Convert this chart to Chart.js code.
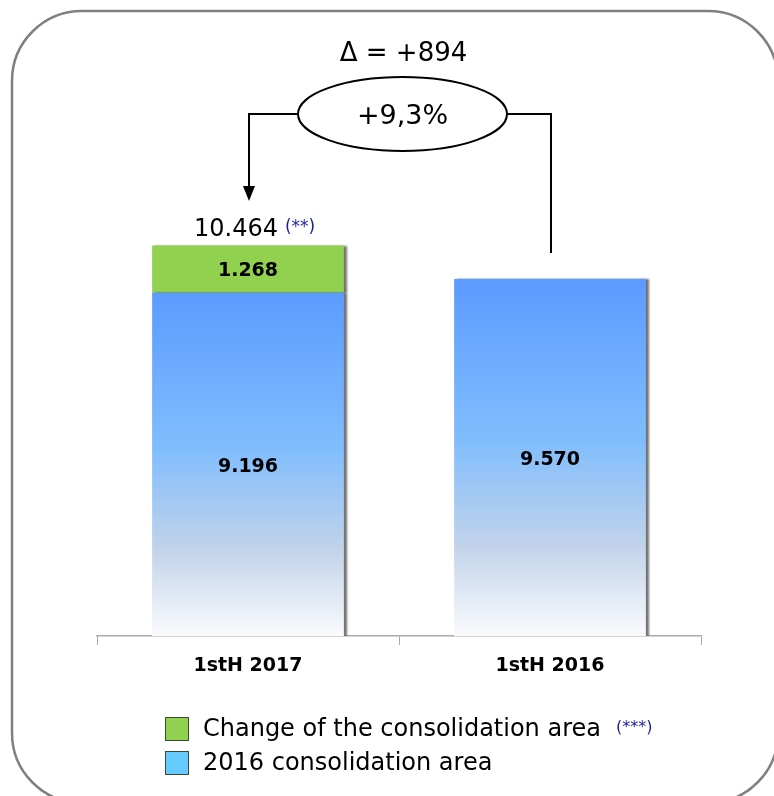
<!DOCTYPE html>
<html>
<head>
<meta charset="utf-8">
<script src="https://cdn.jsdelivr.net/npm/chart.js@4.4.0/dist/chart.umd.min.js"></script>
<style>
  html, body { margin: 0; padding: 0; background: #ffffff; }
  #wrap { position: relative; width: 774px; height: 796px; overflow: hidden; }
</style>
</head>
<body>
<div id="wrap"><canvas id="chart" width="774" height="796"></canvas></div>
<script>
var categories = ["1stH 2017", "1stH 2016"];
var base_2016_area = [9196, 9570];
var area_change = [1268, null];
var legend_labels = ["Change of the consolidation area", "2016 consolidation area"];
var legend_notes = ["(***)", ""];
var total_note = "(**)";

var font_family = "'DejaVu Sans', Verdana, sans-serif";
var green = "#92d050";
var legend_blue = "#66ccff";
var note_blue = "#1f1fa0";

// dots as thousand separators: 10464 -> 10.464
function fmt(v) {
  return String(Math.round(v)).replace(/\B(?=(\d{3})+(?!\d))/g, ".");
}

function totalOf(i) {
  return base_2016_area[i] + (area_change[i] || 0);
}

function barGradient(context) {
  var chart = context.chart;
  if (!chart.chartArea) return "#6fa8ff";
  var y = chart.scales.y;
  var top = y.getPixelForValue(context.raw || 0);
  var bottom = y.getPixelForValue(0);
  var g = chart.ctx.createLinearGradient(0, top, 0, bottom);
  g.addColorStop(0, "#5b9bff");
  g.addColorStop(0.45, "#80bdfd");
  g.addColorStop(0.75, "#c2d3ea");
  g.addColorStop(1, "#fafbfd");
  return g;
}

// gray shadow along the right side of the bars
var barShadow = {
  id: "barShadow",
  beforeDatasetsDraw: function(chart) {
    var ctx = chart.ctx;
    ctx.save();
    ctx.shadowColor = "rgba(0,0,0,0.55)";
    ctx.shadowBlur = 2;
    ctx.shadowOffsetX = 3;
    ctx.shadowOffsetY = 0;
  },
  afterDatasetsDraw: function(chart) {
    chart.ctx.restore();
  }
};

var overlay = {
  id: "overlay",
  afterDraw: function(chart) {
    var ctx = chart.ctx;
    var m0 = chart.getDatasetMeta(0);
    var m1 = chart.getDatasetMeta(1);

    // values inside the bars
    ctx.save();
    ctx.fillStyle = "#000";
    ctx.textAlign = "center";
    ctx.textBaseline = "middle";
    ctx.font = "bold 19px " + font_family;
    m0.data.forEach(function(bar, i) {
      ctx.fillText(fmt(base_2016_area[i]), bar.x, (bar.y + bar.base) / 2 + 3);
    });
    m1.data.forEach(function(bar, i) {
      if (area_change[i] == null) return;
      ctx.fillText(fmt(area_change[i]), bar.x, (bar.y + bar.base) / 2 + 2);
    });

    // total above the first bar
    var b0 = m1.data[0];
    var totalTxt = fmt(totalOf(0));
    ctx.font = "24px " + font_family;
    var w1 = ctx.measureText(totalTxt).width;
    var x0 = b0.x - 12 - w1 / 2;
    ctx.textAlign = "left";
    ctx.fillText(totalTxt, x0, b0.y - 16);
    ctx.font = "17px " + font_family;
    ctx.fillStyle = note_blue;
    ctx.fillText(total_note, x0 + w1 + 7, b0.y - 18);

    // delta annotation between the two bars
    var xl = m0.data[0].x + 1;
    var xr = m0.data[1].x + 1;
    var ytopRight = m0.data[1].y - 26;
    var cx = 402.5;
    var cy = 114;
    var rx = 104.5, ry = 37;
    ctx.strokeStyle = "#000";
    ctx.fillStyle = "#000";
    ctx.lineWidth = 2;
    ctx.beginPath();
    ctx.ellipse(cx, cy, rx, ry, 0, 0, Math.PI * 2);
    ctx.stroke();
    ctx.beginPath();
    ctx.moveTo(cx - rx, 114);
    ctx.lineTo(xl, 114);
    ctx.lineTo(xl, 190);
    ctx.moveTo(cx + rx, 114);
    ctx.lineTo(xr, 114);
    ctx.lineTo(xr, ytopRight);
    ctx.stroke();
    ctx.beginPath();
    ctx.moveTo(xl - 6, 186);
    ctx.lineTo(xl + 6, 186);
    ctx.lineTo(xl, 201);
    ctx.closePath();
    ctx.fill();

    var delta = totalOf(0) - totalOf(1);
    var pct = (delta / totalOf(1) * 100).toFixed(1).replace(".", ",");
    ctx.textAlign = "center";
    ctx.font = "26px " + font_family;
    ctx.fillText("\u0394 = +" + delta, cx + 1, 54);
    ctx.font = "27px " + font_family;
    ctx.fillText("+" + pct + "%", cx, cy + 3);

    // legend
    var lx = 165, ly = [729, 763];
    var swatch = [green, legend_blue];
    for (var i = 0; i < legend_labels.length; i++) {
      ctx.fillStyle = swatch[i];
      ctx.fillRect(lx, ly[i] - 12, 24, 24);
      ctx.strokeStyle = "#3a4a30";
      ctx.lineWidth = 1;
      ctx.strokeRect(lx + 0.5, ly[i] - 11.5, 23, 23);
      ctx.fillStyle = "#000";
      ctx.textAlign = "left";
      ctx.font = "24px " + font_family;
      ctx.fillText(legend_labels[i], 203, ly[i] + 1);
      if (legend_notes[i]) {
        var lw = ctx.measureText(legend_labels[i]).width;
        ctx.font = "16px " + font_family;
        ctx.fillStyle = note_blue;
        ctx.fillText(legend_notes[i], 203 + lw + 15, ly[i] - 1);
      }
    }

    // rounded frame
    ctx.strokeStyle = "#808080";
    ctx.lineWidth = 2.5;
    ctx.beginPath();
    ctx.roundRect(12, 11, 766, 792, 70);
    ctx.stroke();
    ctx.restore();
  }
};

var ctx = document.getElementById("chart").getContext("2d");
var chart = new Chart(ctx, {
  type: "bar",
  data: {
    labels: categories,
    datasets: [{
      label: legend_labels[1],
      data: base_2016_area,
      backgroundColor: barGradient,
      borderWidth: 0
    }, {
      label: legend_labels[0],
      data: area_change,
      backgroundColor: green,
      borderWidth: 0
    }]
  },
  options: {
    responsive: false,
    animation: false,
    events: [],
    layout: { padding: { left: 97, right: 73, top: 39, bottom: 0 } },
    plugins: {
      legend: { display: false },
      tooltip: { enabled: false }
    },
    datasets: {
      bar: { barPercentage: 0.635, categoryPercentage: 1 }
    },
    scales: {
      x: {
        stacked: true,
        border: { display: true, color: "#aaaaaa", width: 1.5 },
        grid: { display: true, drawOnChartArea: false, color: "#aaaaaa", tickLength: 9, offset: true },
        ticks: { color: "#000", padding: 10, font: { family: font_family, size: 19, weight: "bold" } },
        afterFit: function(scale) { scale.height = 160; }
      },
      y: {
        stacked: true,
        display: false,
        min: 0,
        max: 16000
      }
    }
  },
  plugins: [barShadow, overlay]
});
</script>
</body>
</html>
